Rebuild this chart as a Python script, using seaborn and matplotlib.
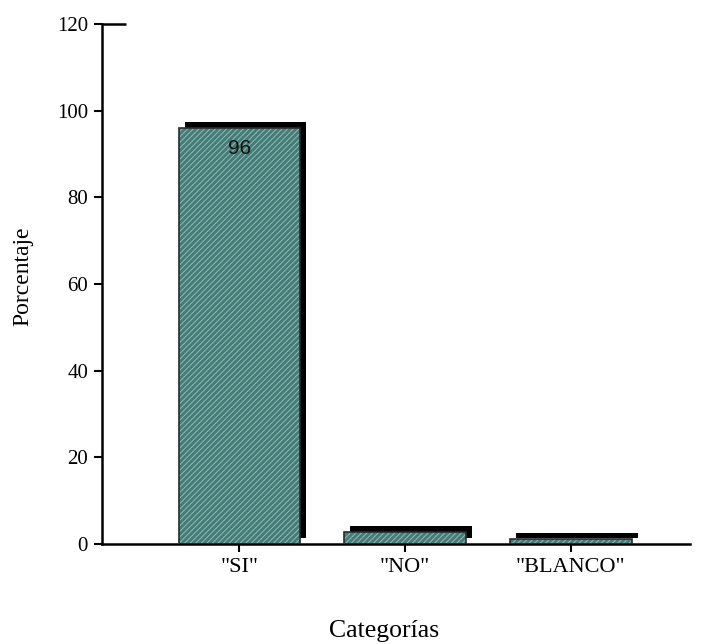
import matplotlib
matplotlib.use("Agg")
import matplotlib.pyplot as plt
import matplotlib.transforms as mtransforms
import seaborn as sns
import pandas as pd

categorias = ['"SI"', '"NO"', '"BLANCO"']
porcentaje = [96.0, 2.8, 1.2]
etiquetas = ["96", "", ""]
y_ticks = [0, 20, 40, 60, 80, 100, 120]

df = pd.DataFrame({"Categorías": categorias, "Porcentaje": porcentaje})

sns.set_theme(style="white")
plt.rcParams["font.family"] = ["Liberation Serif", "DejaVu Serif"]
plt.rcParams["hatch.linewidth"] = 0.8

fig = plt.figure(figsize=(7.03, 6.44), dpi=100)
ax = fig.add_axes([0.1451, 0.1553, 0.8364, 0.8074])

bar_w = 0.735
fill = "#457a76"
hatch_col = "#82b8b1"

# drop shadow behind each bar, shifted up and to the right
shadow_tr = mtransforms.offset_copy(ax.transData, fig=fig, x=6, y=6, units="dots")
ax.bar(range(len(categorias)), porcentaje, width=bar_w, color="black",
       linewidth=0, transform=shadow_tr, zorder=1)

# hatched front bars
sns.barplot(data=df, x="Categorías", y="Porcentaje", ax=ax, color=fill,
            width=bar_w, saturation=1, zorder=2)
for p in ax.patches[len(categorias):]:
    p.set_facecolor(fill)
    p.set_edgecolor(hatch_col)
    p.set_hatch("//////")
    p.set_linewidth(0)
# dark outline
ax.bar(range(len(categorias)), porcentaje, width=bar_w, fill=False,
       edgecolor="#2a2a2a", linewidth=1.2, zorder=3)

for i, (v, t) in enumerate(zip(porcentaje, etiquetas)):
    if t:
        ax.annotate(t, xy=(i, v), xytext=(0, -8), textcoords="offset points",
                    ha="center", va="top", fontsize=15,
                    family=["Liberation Sans", "DejaVu Sans"], color="#111111",
                    zorder=4)

ax.set_ylim(0, 120)
ax.set_xlim(-0.83, 2.72)
ax.set_yticks(y_ticks)
ax.set_yticklabels([str(t) for t in y_ticks])

for side in ["top", "right"]:
    ax.spines[side].set_visible(False)
for side in ["left", "bottom"]:
    ax.spines[side].set_linewidth(1.8)
    ax.spines[side].set_color("black")

# short cap line at the top of the value axis
ax.plot([0, 0.04], [120, 120], transform=ax.get_yaxis_transform(),
        color="black", linewidth=1.8, clip_on=False, solid_capstyle="butt")

ax.tick_params(axis="both", which="major", direction="out", length=6,
               width=1.5, color="black", labelsize=15, labelcolor="black",
               bottom=True, left=True, pad=4)
ax.tick_params(axis="x", labelsize=16)

ax.set_xlabel("Categorías", fontsize=18.5, color="black")
ax.set_ylabel("Porcentaje", fontsize=17, color="black")
ax.xaxis.set_label_coords(0.48, -0.146)
ax.yaxis.set_label_coords(-0.116, 0.515)

fig.savefig("out.png", dpi=100, facecolor="white")
